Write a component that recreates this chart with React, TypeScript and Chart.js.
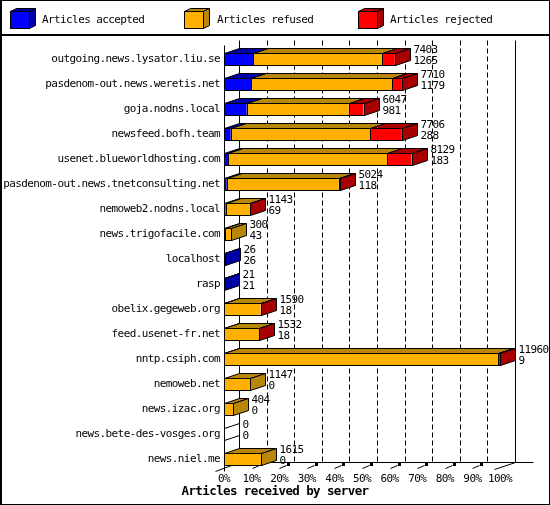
import React, { useEffect, useRef } from 'react';
import { Chart, registerables } from 'chart.js';

Chart.register(...registerables);

const servers = [
  'outgoing.news.lysator.liu.se',
  'pasdenom-out.news.weretis.net',
  'goja.nodns.local',
  'newsfeed.bofh.team',
  'usenet.blueworldhosting.com',
  'pasdenom-out.news.tnetconsulting.net',
  'nemoweb2.nodns.local',
  'news.trigofacile.com',
  'localhost',
  'rasp',
  'obelix.gegeweb.org',
  'feed.usenet-fr.net',
  'nntp.csiph.com',
  'nemoweb.net',
  'news.izac.org',
  'news.bete-des-vosges.org',
  'news.niel.me',
];

const offered = [7403, 7710, 6047, 7706, 8129, 5024, 1143, 300, 26, 21, 1590, 1532, 11960, 1147, 404, 0, 1615];
const accepted = [1265, 1179, 981, 288, 183, 118, 69, 43, 26, 21, 18, 18, 9, 0, 0, 0, 0];
const refused = [5568, 6111, 4426, 6018, 6886, 4856, 1066, 257, 0, 0, 1567, 1509, 11881, 1147, 404, 0, 1615];
const rejected = [570, 420, 640, 1400, 1060, 50, 8, 0, 0, 0, 5, 5, 70, 0, 0, 0, 0];

const percentTicks = [0, 10, 20, 30, 40, 50, 60, 70, 80, 90, 100];
const legendLabels = ['Articles accepted', 'Articles refused', 'Articles rejected'];
const xTitle = 'Articles received by server';

const FRONT = ['#0000FF', '#FFB000', '#FF0000'];
const SHADE = ['#0000A8', '#B8860B', '#A80000'];
const MONO = '"DejaVu Sans Mono", "Liberation Mono", monospace';
const FONT_SIZE = 11;
const SPACING = '-0.6px';
const DX = 15;
const DY = -5;

const series = [accepted, refused, rejected];

function poly(ctx: CanvasRenderingContext2D, pts: number[][], fill?: string) {
  ctx.beginPath();
  ctx.moveTo(pts[0][0], pts[0][1]);
  for (let i = 1; i < pts.length; i++) ctx.lineTo(pts[i][0], pts[i][1]);
  ctx.closePath();
  if (fill) {
    ctx.fillStyle = fill;
    ctx.fill();
  }
  ctx.stroke();
}

function line(ctx: CanvasRenderingContext2D, x1: number, y1: number, x2: number, y2: number) {
  ctx.beginPath();
  ctx.moveTo(x1, y1);
  ctx.lineTo(x2, y2);
  ctx.stroke();
}

const threeD = {
  id: 'threeD',
  beforeDraw(chart: any) {
    const { ctx, width, height } = chart;
    ctx.save();
    ctx.fillStyle = '#fff';
    ctx.fillRect(0, 0, width, height);
    ctx.restore();
    (ctx as any).letterSpacing = SPACING;
  },
  beforeDatasetsDraw(chart: any) {
    const { ctx, chartArea: a } = chart;
    const x = chart.scales.x;
    const max = x.max;
    const left = Math.round(x.getPixelForValue(0)) + 0.5;
    const right = Math.round(x.getPixelForValue(max)) + 0.5;
    const fy = Math.round(a.bottom - 5) + 0.5;
    const by = fy + DY;
    const topBack = Math.round(a.top - 7) + 0.5;
    ctx.save();
    ctx.strokeStyle = '#000';
    ctx.fillStyle = '#000';
    ctx.lineWidth = 1;
    ctx.setLineDash([5, 3]);
    for (let i = 1; i < percentTicks.length - 1; i++) {
      const px = Math.round(x.getPixelForValue((max * percentTicks[i]) / 100) + DX) + 0.5;
      line(ctx, px, topBack, px, by);
    }
    ctx.setLineDash([]);
    // back walls
    line(ctx, left + DX, topBack, left + DX, by);
    line(ctx, right + DX, topBack, right + DX, by);
    // floor back line
    line(ctx, left + DX, by, right + DX + 18, by);
    // floor side edges
    line(ctx, left - 9, fy + 4, left + DX, by);
    line(ctx, right - 6, fy + 2, right + DX, by);
    // front axis
    line(ctx, left, Math.round(a.top - 2) + 0.5, left, fy + 4);
    // floor tick marks
    for (let i = 1; i < percentTicks.length - 1; i++) {
      const px = Math.round(x.getPixelForValue((max * percentTicks[i]) / 100));
      line(ctx, px + 0.5, fy + 1, px + 7.5, fy - 2);
      ctx.fillRect(px + 8, fy - 4.5, 3, 3);
    }
    ctx.restore();
  },
  afterDatasetsDraw(chart: any) {
    const { ctx } = chart;
    const x = chart.scales.x;
    const left = Math.round(x.getPixelForValue(0)) + 0.5;
    ctx.save();
    ctx.strokeStyle = '#000';
    ctx.lineWidth = 1;
    for (let i = 0; i < servers.length; i++) {
      let last = -1;
      const segs: any[] = [];
      for (let d = 0; d < 3; d++) {
        const el = chart.getDatasetMeta(d).data[i];
        const p = el.getProps(['x', 'base', 'y', 'height'], true);
        const x1 = Math.round(Math.min(p.x, p.base)) + 0.5;
        const x2 = Math.round(Math.max(p.x, p.base)) + 0.5;
        const yt = Math.round(p.y - p.height / 2) + 0.5;
        const yb = Math.round(p.y + p.height / 2) + 0.5;
        segs.push({ x1, x2, yt, yb, cy: p.y, v: series[d][i] });
        if (series[d][i] > 0) last = d;
      }
      const yt = segs[0].yt;
      const yb = segs[0].yb;
      const cy = segs[0].cy;
      let end = left;
      if (last < 0) {
        poly(ctx, [
          [left, yt],
          [left + DX, yt + DY],
          [left + DX, yb + DY],
          [left, yb],
        ]);
      } else {
        for (let d = 0; d < 3; d++) {
          const s = segs[d];
          if (s.v <= 0) continue;
          if (s.x2 - s.x1 >= 1) ctx.strokeRect(s.x1, s.yt, s.x2 - s.x1, s.yb - s.yt);
          poly(ctx, [
            [s.x1, s.yt],
            [s.x2, s.yt],
            [s.x2 + DX, s.yt + DY],
            [s.x1 + DX, s.yt + DY],
          ], SHADE[d]);
        }
        const s = segs[last];
        end = s.x2;
        poly(ctx, [
          [s.x2, s.yt],
          [s.x2 + DX, s.yt + DY],
          [s.x2 + DX, s.yb + DY],
          [s.x2, s.yb],
        ], SHADE[last]);
        ctx.beginPath();
        ctx.moveTo(segs[0].x1, yb);
        ctx.lineTo(end, yb);
        ctx.stroke();
      }
      ctx.fillStyle = '#000';
      ctx.font = `${FONT_SIZE}px ${MONO}`;
      (ctx as any).letterSpacing = SPACING;
      ctx.textAlign = 'left';
      ctx.textBaseline = 'middle';
      ctx.fillText(String(offered[i]), end + 18, cy - 9);
      ctx.fillText(String(accepted[i]), end + 18, cy + 2);
    }
    ctx.restore();
  },
  afterDraw(chart: any) {
    const { ctx, width, height } = chart;
    ctx.save();
    ctx.strokeStyle = '#000';
    ctx.fillStyle = '#000';
    ctx.lineWidth = 1;
    // legend
    const boxX = [10, 184, 358];
    const textX = [42, 217, 390];
    for (let k = 0; k < 3; k++) {
      const fx = boxX[k] + 0.5;
      const ty = 11.5;
      const w = 19;
      const h = 17;
      ctx.fillStyle = FRONT[k];
      ctx.fillRect(fx, ty, w, h);
      ctx.strokeRect(fx, ty, w, h);
      poly(ctx, [
        [fx, ty],
        [fx + 6, ty - 3],
        [fx + w + 6, ty - 3],
        [fx + w, ty],
      ], SHADE[k]);
      poly(ctx, [
        [fx + w, ty],
        [fx + w + 6, ty - 3],
        [fx + w + 6, ty + h - 3],
        [fx + w, ty + h],
      ], SHADE[k]);
      ctx.fillStyle = '#000';
      ctx.font = `${FONT_SIZE}px ${MONO}`;
      (ctx as any).letterSpacing = SPACING;
      ctx.textAlign = 'left';
      ctx.textBaseline = 'middle';
      ctx.fillText(legendLabels[k], textX[k], 20);
    }
    // title
    ctx.font = `bold 12.5px ${MONO}`;
    (ctx as any).letterSpacing = SPACING;
    ctx.textAlign = 'center';
    ctx.textBaseline = 'middle';
    ctx.fillText(xTitle, width / 2, 492);
    // frame
    ctx.fillRect(0, 34, width, 2);
    ctx.strokeRect(0.5, 0.5, width - 1, height - 1);
    line(ctx, 1.5, 0, 1.5, height);
    ctx.restore();
  },
};

export default function App() {
  const ref = useRef<HTMLCanvasElement | null>(null);
  useEffect(() => {
    if (!ref.current) return;
    const max = Math.max(...offered);
    const chart = new Chart(ref.current, {
      type: 'bar',
      data: {
        labels: servers,
        datasets: [
          { label: legendLabels[0], data: accepted, backgroundColor: FRONT[0] },
          { label: legendLabels[1], data: refused, backgroundColor: FRONT[1] },
          { label: legendLabels[2], data: rejected, backgroundColor: FRONT[2] },
        ],
      },
      options: {
        indexAxis: 'y',
        responsive: false,
        devicePixelRatio: 1,
        animation: false,
        borderWidth: 0,
        barPercentage: 0.48,
        categoryPercentage: 1,
        layout: { padding: { top: 46.5, right: 50, bottom: 0, left: 0 } },
        plugins: { legend: { display: false }, tooltip: { enabled: false } },
        scales: {
          x: {
            type: 'linear',
            stacked: true,
            min: 0,
            max,
            grid: { display: false, drawTicks: false },
            border: { display: false },
            afterBuildTicks: (scale: any) => {
              scale.ticks = percentTicks.map((p) => ({ value: (max * p) / 100 }));
            },
            afterFit: (scale: any) => {
              scale.height = 33.5;
            },
            ticks: {
              autoSkip: false,
              maxRotation: 0,
              padding: 1,
              color: '#000',
              font: { family: MONO, size: FONT_SIZE },
              callback: (v: any) => `${Math.round((Number(v) / max) * 100)}%`,
            },
          },
          y: {
            type: 'category',
            stacked: true,
            grid: { display: false, drawTicks: false },
            border: { display: false },
            afterFit: (scale: any) => {
              scale.width = 224;
            },
            ticks: {
              autoSkip: false,
              padding: 4,
              color: '#000',
              font: { family: MONO, size: FONT_SIZE },
            },
          },
        },
      } as any,
      plugins: [threeD],
    });
    return () => chart.destroy();
  }, []);
  return (
    <div style={{ position: 'absolute', left: 0, top: 0, width: 550, height: 505 }}>
      <canvas ref={ref} width={550} height={505} style={{ display: 'block' }} />
    </div>
  );
}
